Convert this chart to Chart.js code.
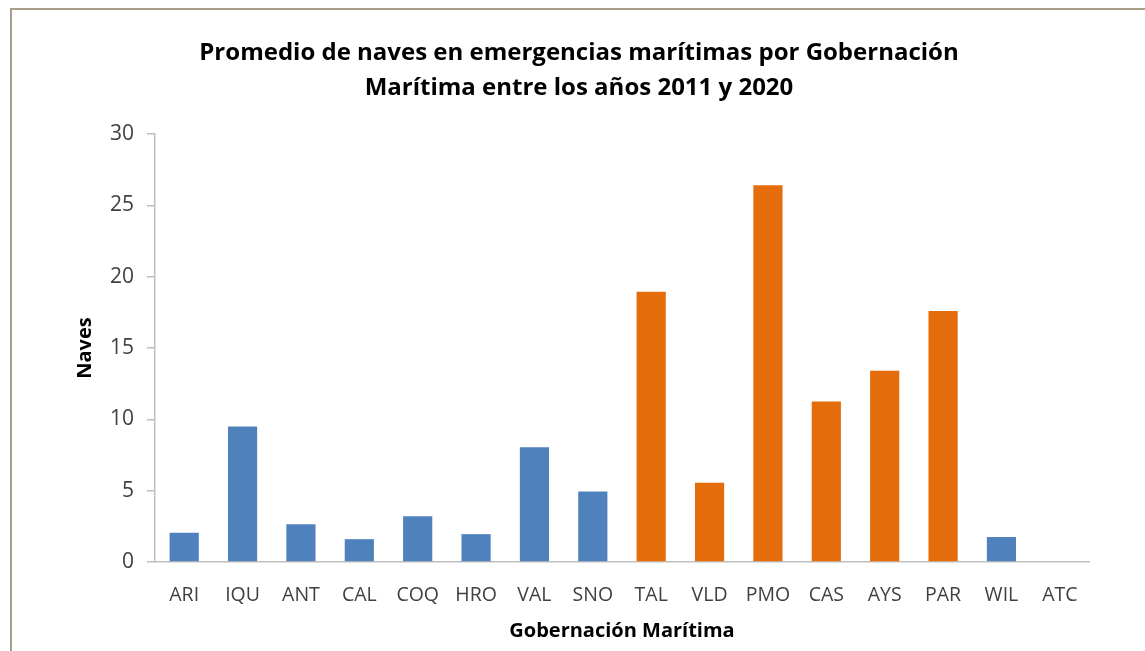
<!DOCTYPE html>
<html>
<head>
<meta charset="utf-8">
<style>
  html, body { margin: 0; padding: 0; background: #fff; }
  #wrap { position: relative; width: 1145px; height: 651px; }
</style>
<script src="https://cdn.jsdelivr.net/npm/chart.js@4"></script>
</head>
<body>
<div id="wrap"><canvas id="naves"></canvas></div>
<script>
  // ---- DATA ----
  const gobernaciones = ['ARI', 'IQU', 'ANT', 'CAL', 'COQ', 'HRO', 'VAL', 'SNO',
                         'TAL', 'VLD', 'PMO', 'CAS', 'AYS', 'PAR', 'WIL', 'ATC'];
  const promedioNaves = [2.05, 9.5, 2.65, 1.6, 3.2, 1.95, 8.05, 4.95,
                         18.95, 5.55, 26.4, 11.25, 13.4, 17.6, 1.75, 0];
  // zona sur destacada en naranja
  const destacadas = ['TAL', 'VLD', 'PMO', 'CAS', 'AYS', 'PAR'];
  const yTicks = [0, 5, 10, 15, 20, 25, 30];
  const titulo = ['Promedio de naves en emergencias marítimas por Gobernación',
                  'Marítima entre los años 2011 y 2020'];

  const AZUL = '#4f81bd';
  const NARANJA = '#e46c0a';
  const GRIS = '#bfbfbf';
  const TXT = '#404040';
  const FONT = "'Open Sans'";

  const colores = gobernaciones.map(g => destacadas.includes(g) ? NARANJA : AZUL);

  // marco del recuadro (bordes izquierdo y superior) + fondo blanco
  const framePlugin = {
    id: 'frame',
    beforeDraw(chart) {
      const c = chart.ctx;
      c.save();
      c.fillStyle = '#fff';
      c.fillRect(0, 0, chart.width, chart.height);
      c.strokeStyle = '#a89f87';
      c.lineWidth = 2;
      c.beginPath();
      c.moveTo(11, chart.height);
      c.lineTo(11, 9);
      c.lineTo(chart.width, 9);
      c.stroke();
      c.restore();
    }
  };

  // titulo de dos lineas, centrado sobre el recuadro
  const tituloPlugin = {
    id: 'titulo',
    afterDraw(chart) {
      const c = chart.ctx;
      c.save();
      c.fillStyle = '#000';
      c.font = 'bold 24px ' + FONT;
      c.textAlign = 'center';
      c.textBaseline = 'alphabetic';
      titulo.forEach((t, i) => c.fillText(t, 579, 60 + i * 35));
      c.restore();
    }
  };

  const ctx = document.getElementById('naves').getContext('2d');
  new Chart(ctx, {
    type: 'bar',
    data: {
      labels: gobernaciones,
      datasets: [{
        data: promedioNaves,
        backgroundColor: colores,
        categoryPercentage: 1.0,
        barPercentage: 0.5
      }]
    },
    options: {
      responsive: true,
      maintainAspectRatio: false,
      animation: false,
      layout: { padding: { left: 0, right: 56, top: 134, bottom: 0 } },
      plugins: {
        legend: { display: false },
        tooltip: { enabled: false },
        title: { display: false }
      },
      scales: {
        x: {
          grid: { display: false },
          border: { display: true, color: GRIS, width: 1.5 },
          ticks: { color: TXT, font: { family: FONT, size: 19.5 }, padding: 14, maxRotation: 0 },
          title: {
            display: true,
            text: 'Gobernación Marítima',
            color: '#000',
            font: { family: FONT, size: 20, weight: 'bold' },
            padding: { top: 0, bottom: 8 }
          },
          afterFit(scale) { scale.height = 89; }
        },
        y: {
          min: 0,
          max: 30,
          afterBuildTicks(scale) { scale.ticks = yTicks.map(v => ({ value: v })); },
          grid: { drawOnChartArea: false, tickLength: 8, color: GRIS, lineWidth: 1.5 },
          border: { display: true, color: GRIS, width: 1.5 },
          ticks: { color: TXT, font: { family: FONT, size: 21 }, padding: 13 },
          title: {
            display: true,
            text: 'Naves',
            color: '#000',
            font: { family: FONT, size: 20, weight: 'bold' },
            padding: { top: 73, bottom: 0 }
          },
          afterFit(scale) { scale.width = 155; }
        }
      }
    },
    plugins: [framePlugin, tituloPlugin]
  });
</script>
</body>
</html>
